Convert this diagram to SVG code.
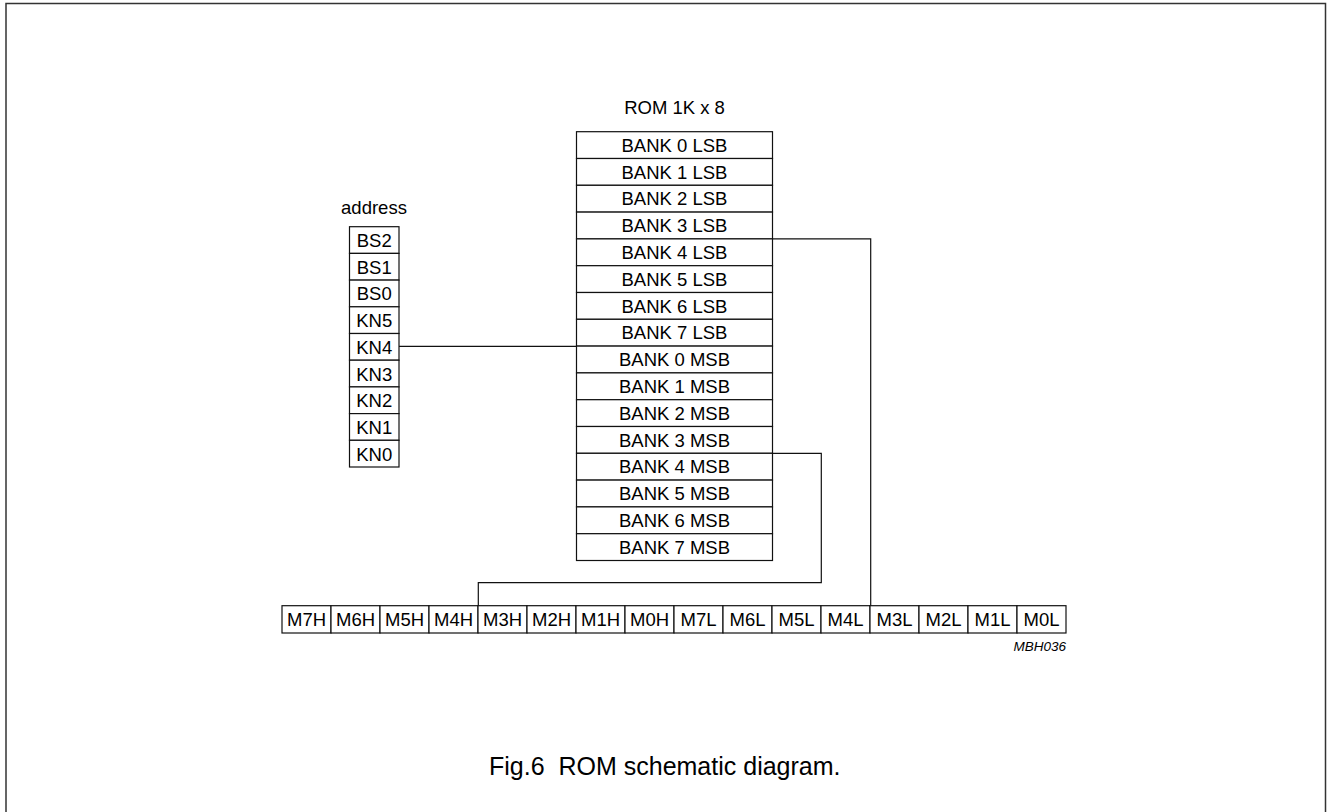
<svg xmlns="http://www.w3.org/2000/svg" width="1327" height="812" viewBox="0 0 1327 812">
<style>
.cell{fill:#fff;stroke:#111;stroke-width:1.2}
.lbl{font-family:"Liberation Sans",Arial,sans-serif;font-size:18.5px;text-anchor:middle;fill:#000}
.wire{fill:none;stroke:#111;stroke-width:1.2}
.frame{fill:none;stroke:#333;stroke-width:1.5}
</style>
<rect class="frame" x="6" y="3.5" width="1319.5" height="830"/>
<g id="rom">
<text class="lbl" x="674.5" y="114">ROM 1K x 8</text>
<g id="rom-b0l"><rect class="cell" x="576.5" y="131.7" width="196" height="26.8"/><text class="lbl" x="674.5" y="151.7">BANK 0 LSB</text></g>
<g id="rom-b1l"><rect class="cell" x="576.5" y="158.5" width="196" height="26.8"/><text class="lbl" x="674.5" y="178.5">BANK 1 LSB</text></g>
<g id="rom-b2l"><rect class="cell" x="576.5" y="185.3" width="196" height="26.8"/><text class="lbl" x="674.5" y="205.3">BANK 2 LSB</text></g>
<g id="rom-b3l"><rect class="cell" x="576.5" y="212.1" width="196" height="26.8"/><text class="lbl" x="674.5" y="232.1">BANK 3 LSB</text></g>
<g id="rom-b4l"><rect class="cell" x="576.5" y="238.9" width="196" height="26.8"/><text class="lbl" x="674.5" y="258.9">BANK 4 LSB</text></g>
<g id="rom-b5l"><rect class="cell" x="576.5" y="265.7" width="196" height="26.8"/><text class="lbl" x="674.5" y="285.7">BANK 5 LSB</text></g>
<g id="rom-b6l"><rect class="cell" x="576.5" y="292.5" width="196" height="26.8"/><text class="lbl" x="674.5" y="312.5">BANK 6 LSB</text></g>
<g id="rom-b7l"><rect class="cell" x="576.5" y="319.3" width="196" height="26.8"/><text class="lbl" x="674.5" y="339.3">BANK 7 LSB</text></g>
<g id="rom-b0m"><rect class="cell" x="576.5" y="346.1" width="196" height="26.8"/><text class="lbl" x="674.5" y="366.1">BANK 0 MSB</text></g>
<g id="rom-b1m"><rect class="cell" x="576.5" y="372.9" width="196" height="26.8"/><text class="lbl" x="674.5" y="392.9">BANK 1 MSB</text></g>
<g id="rom-b2m"><rect class="cell" x="576.5" y="399.7" width="196" height="26.8"/><text class="lbl" x="674.5" y="419.7">BANK 2 MSB</text></g>
<g id="rom-b3m"><rect class="cell" x="576.5" y="426.5" width="196" height="26.8"/><text class="lbl" x="674.5" y="446.5">BANK 3 MSB</text></g>
<g id="rom-b4m"><rect class="cell" x="576.5" y="453.3" width="196" height="26.8"/><text class="lbl" x="674.5" y="473.3">BANK 4 MSB</text></g>
<g id="rom-b5m"><rect class="cell" x="576.5" y="480.1" width="196" height="26.8"/><text class="lbl" x="674.5" y="500.1">BANK 5 MSB</text></g>
<g id="rom-b6m"><rect class="cell" x="576.5" y="506.9" width="196" height="26.8"/><text class="lbl" x="674.5" y="526.9">BANK 6 MSB</text></g>
<g id="rom-b7m"><rect class="cell" x="576.5" y="533.7" width="196" height="26.8"/><text class="lbl" x="674.5" y="553.7">BANK 7 MSB</text></g>
</g>
<g id="address">
<text class="lbl" x="374" y="214">address</text>
<g id="addr-bs2"><rect class="cell" x="349.5" y="226.7" width="49.5" height="26.7"/><text class="lbl" x="374.2" y="247">BS2</text></g>
<g id="addr-bs1"><rect class="cell" x="349.5" y="253.4" width="49.5" height="26.7"/><text class="lbl" x="374.2" y="273.7">BS1</text></g>
<g id="addr-bs0"><rect class="cell" x="349.5" y="280.1" width="49.5" height="26.7"/><text class="lbl" x="374.2" y="300.4">BS0</text></g>
<g id="addr-kn5"><rect class="cell" x="349.5" y="306.8" width="49.5" height="26.7"/><text class="lbl" x="374.2" y="327.1">KN5</text></g>
<g id="addr-kn4"><rect class="cell" x="349.5" y="333.5" width="49.5" height="26.7"/><text class="lbl" x="374.2" y="353.8">KN4</text></g>
<g id="addr-kn3"><rect class="cell" x="349.5" y="360.2" width="49.5" height="26.7"/><text class="lbl" x="374.2" y="380.5">KN3</text></g>
<g id="addr-kn2"><rect class="cell" x="349.5" y="386.9" width="49.5" height="26.7"/><text class="lbl" x="374.2" y="407.2">KN2</text></g>
<g id="addr-kn1"><rect class="cell" x="349.5" y="413.6" width="49.5" height="26.7"/><text class="lbl" x="374.2" y="433.9">KN1</text></g>
<g id="addr-kn0"><rect class="cell" x="349.5" y="440.3" width="49.5" height="26.7"/><text class="lbl" x="374.2" y="460.6">KN0</text></g>
</g>
<g id="output">
<g id="out-m7h"><rect class="cell" x="282" y="605.7" width="49" height="27.3"/><text class="lbl" x="306.5" y="626">M7H</text></g>
<g id="out-m6h"><rect class="cell" x="331" y="605.7" width="49" height="27.3"/><text class="lbl" x="355.5" y="626">M6H</text></g>
<g id="out-m5h"><rect class="cell" x="380" y="605.7" width="49" height="27.3"/><text class="lbl" x="404.5" y="626">M5H</text></g>
<g id="out-m4h"><rect class="cell" x="429" y="605.7" width="49" height="27.3"/><text class="lbl" x="453.5" y="626">M4H</text></g>
<g id="out-m3h"><rect class="cell" x="478" y="605.7" width="49" height="27.3"/><text class="lbl" x="502.5" y="626">M3H</text></g>
<g id="out-m2h"><rect class="cell" x="527" y="605.7" width="49" height="27.3"/><text class="lbl" x="551.5" y="626">M2H</text></g>
<g id="out-m1h"><rect class="cell" x="576" y="605.7" width="49" height="27.3"/><text class="lbl" x="600.5" y="626">M1H</text></g>
<g id="out-m0h"><rect class="cell" x="625" y="605.7" width="49" height="27.3"/><text class="lbl" x="649.5" y="626">M0H</text></g>
<g id="out-m7l"><rect class="cell" x="674" y="605.7" width="49" height="27.3"/><text class="lbl" x="698.5" y="626">M7L</text></g>
<g id="out-m6l"><rect class="cell" x="723" y="605.7" width="49" height="27.3"/><text class="lbl" x="747.5" y="626">M6L</text></g>
<g id="out-m5l"><rect class="cell" x="772" y="605.7" width="49" height="27.3"/><text class="lbl" x="796.5" y="626">M5L</text></g>
<g id="out-m4l"><rect class="cell" x="821" y="605.7" width="49" height="27.3"/><text class="lbl" x="845.5" y="626">M4L</text></g>
<g id="out-m3l"><rect class="cell" x="870" y="605.7" width="49" height="27.3"/><text class="lbl" x="894.5" y="626">M3L</text></g>
<g id="out-m2l"><rect class="cell" x="919" y="605.7" width="49" height="27.3"/><text class="lbl" x="943.5" y="626">M2L</text></g>
<g id="out-m1l"><rect class="cell" x="968" y="605.7" width="49" height="27.3"/><text class="lbl" x="992.5" y="626">M1L</text></g>
<g id="out-m0l"><rect class="cell" x="1017" y="605.7" width="49" height="27.3"/><text class="lbl" x="1041.5" y="626">M0L</text></g>
</g>
<g id="connectors">
<path class="wire" d="M399 346.4H576.5"/>
<path class="wire" d="M772.5 238.9H870.7V605.7"/>
<path class="wire" d="M772.5 453.3H821.3V582.7H478.3V605.7"/>
</g>
<text x="1066" y="651" font-family="Liberation Sans, Arial, sans-serif" font-size="13.5" font-style="italic" text-anchor="end" fill="#000">MBH036</text>
<text x="489" y="775" font-family="Liberation Sans, Arial, sans-serif" font-size="25" fill="#000" xml:space="preserve">Fig.6  ROM schematic diagram.</text>
</svg>
